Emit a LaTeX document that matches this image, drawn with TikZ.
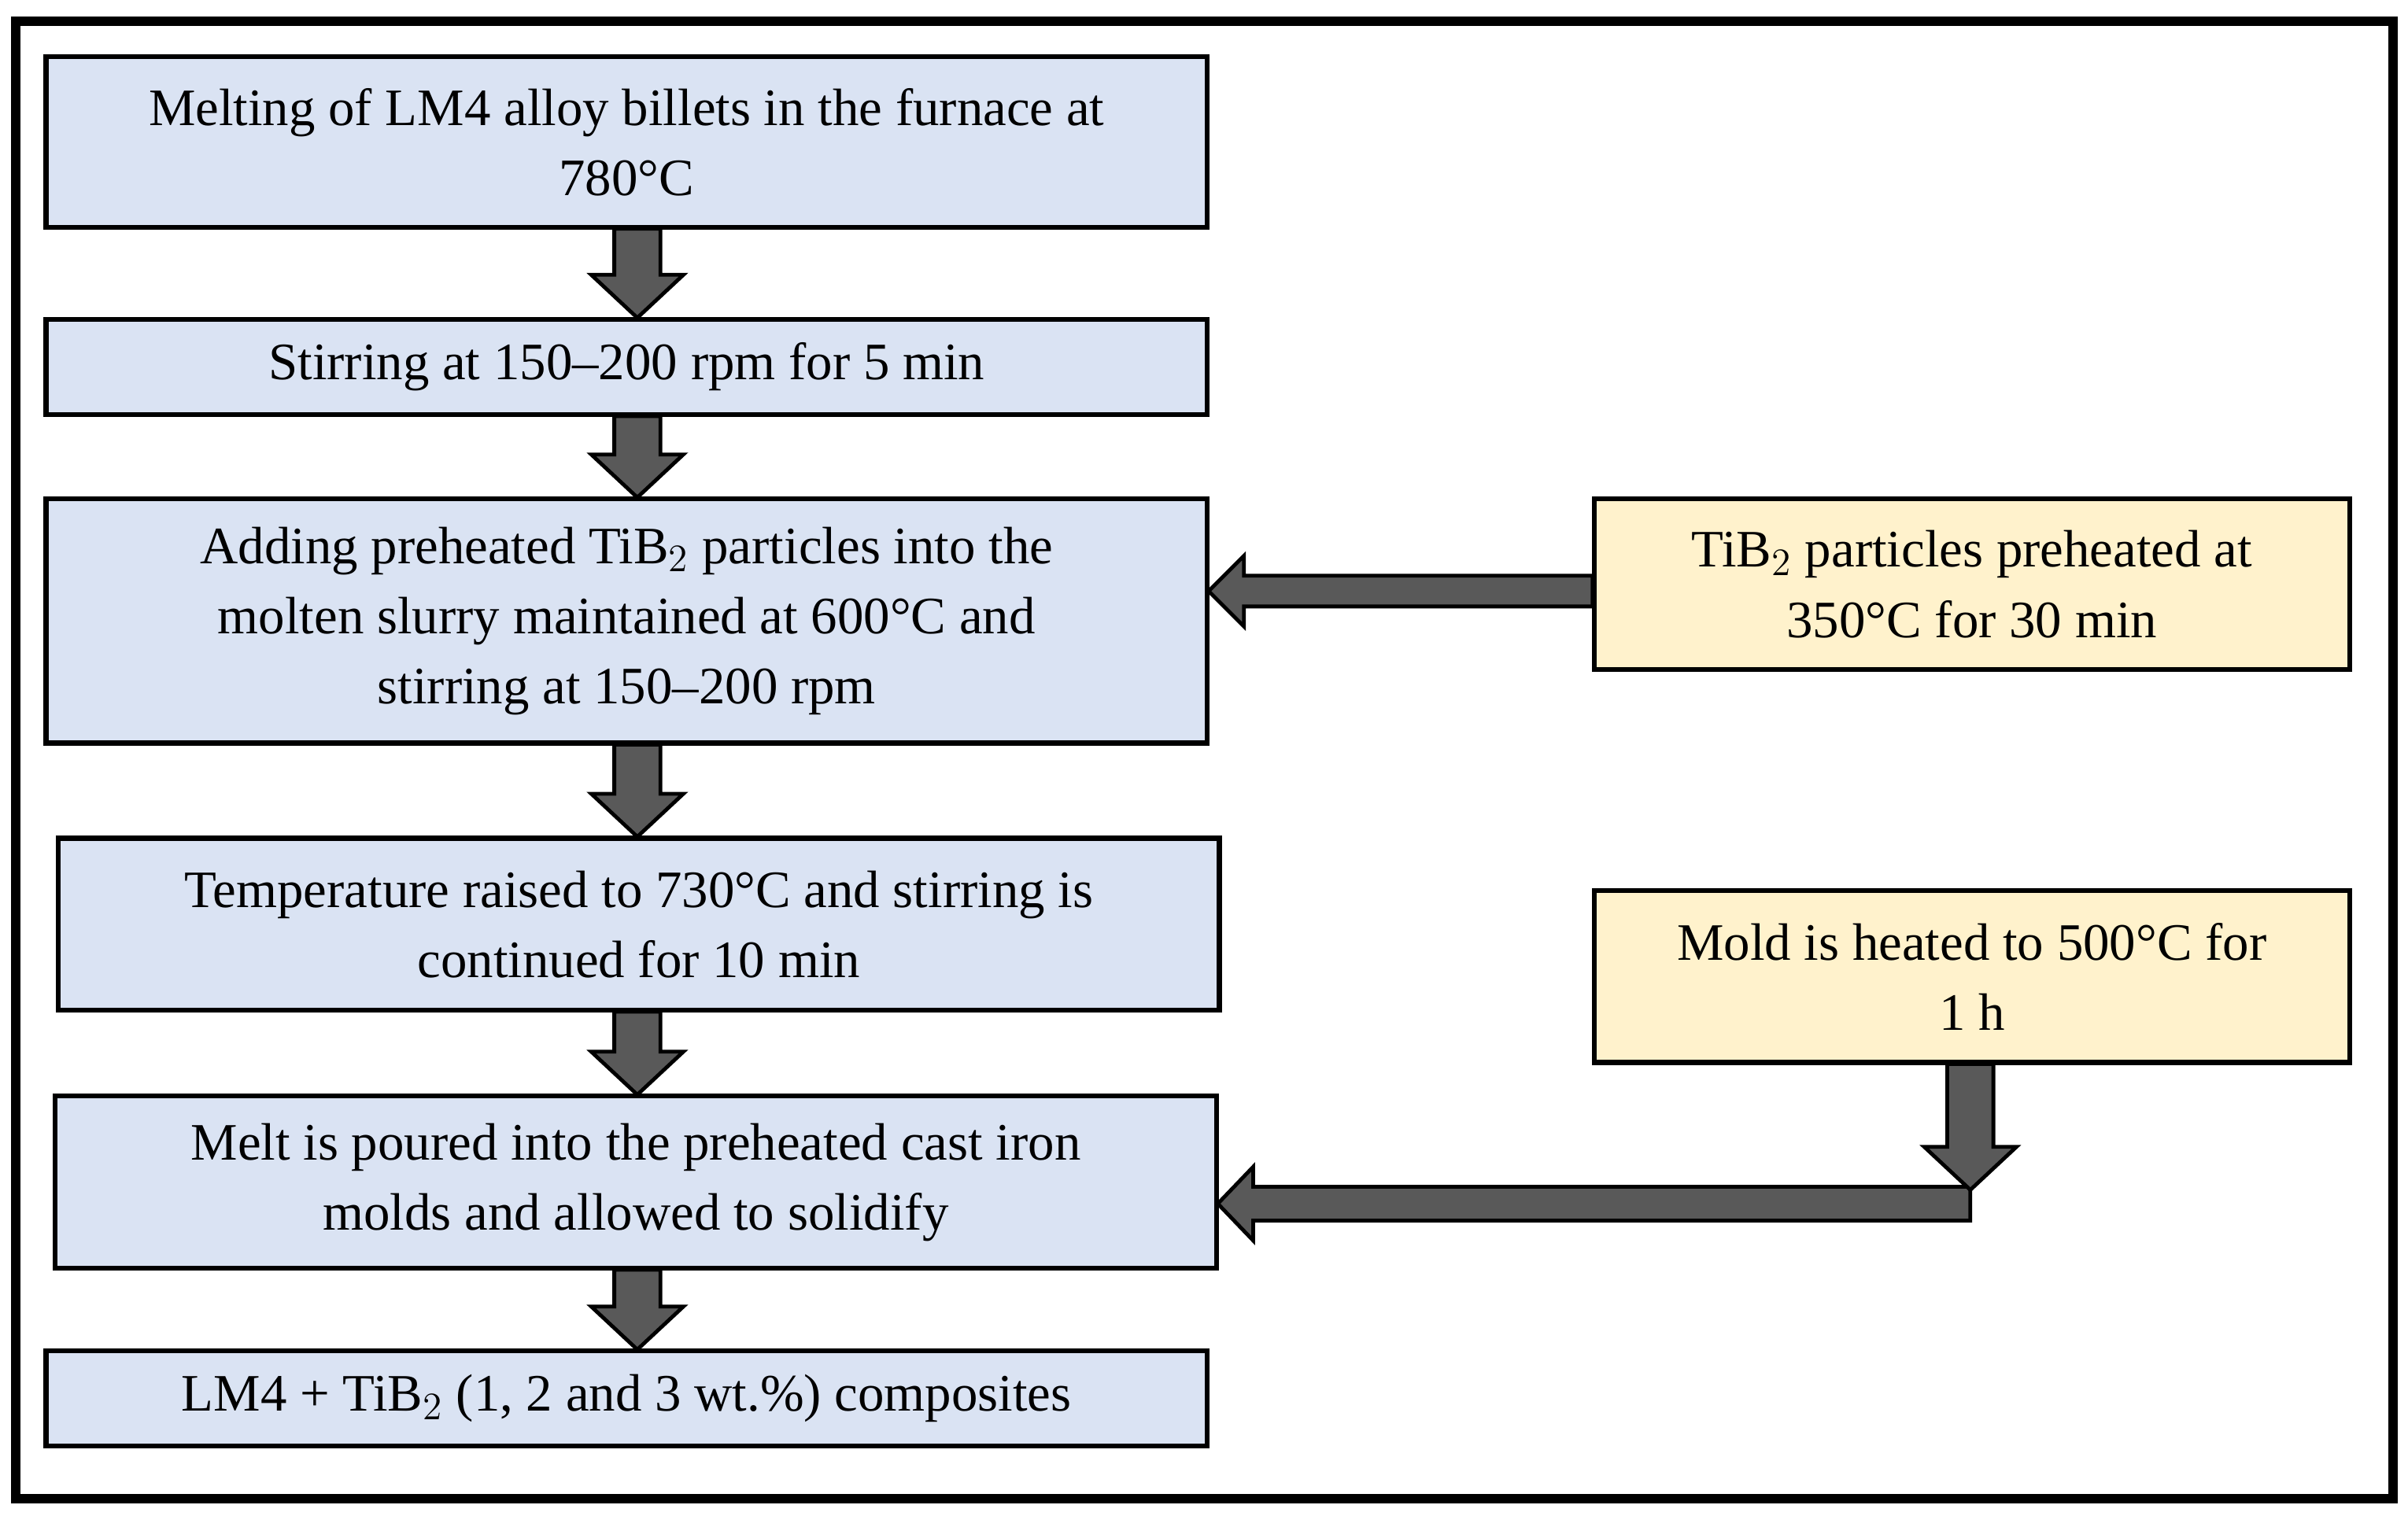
\documentclass[tikz,border=0pt]{standalone}
\usepackage{fontspec}
\setmainfont{Liberation Serif}
\begin{document}
\begin{tikzpicture}[x=0.02cm,y=-0.02cm,
 box/.style={draw=black,line width=1.8pt,fill=#1,align=center,inner sep=0pt,font=\fontsize{19.5}{26}\selectfont},
 arr/.style={fill=black!65,draw=black,line width=1.4pt,line join=miter}]
\useasboundingbox (0,0) rectangle (1568,987);
\draw[line width=3.5pt] (10,14) rectangle (1558,976);
\definecolor{bl}{HTML}{DAE3F3}\definecolor{yl}{HTML}{FFF2CC}
\newcommand\bx[6]{\node[box=#6,minimum width=(#3-#2)*0.02cm,minimum height=(#5-#4)*0.02cm] (#1) at ({(#2+#3)/2},{(#4+#5)/2})}
\bx{b1}{30}{786}{37}{148}{bl} {Melting of LM4 alloy billets in the furnace at\\780°C};
\bx{b2}{30}{786}{208}{270}{bl} {Stirring at 150–200 rpm for 5 min};
\bx{b3}{30}{786}{325}{484}{bl} {Adding preheated TiB$_2$ particles into the\\molten slurry maintained at 600°C and\\stirring at 150–200 rpm};
\bx{b4}{38}{794}{546}{658}{bl} {Temperature raised to 730°C and stirring is\\continued for 10 min};
\bx{b5}{36}{792}{714}{826}{bl} {Melt is poured into the preheated cast iron\\molds and allowed to solidify};
\bx{b6}{30}{786}{880}{942}{bl} {LM4 + TiB$_2$ (1, 2 and 3 wt.\%) composites};
\bx{y1}{1038}{1530}{325}{436}{yl} {TiB$_2$ particles preheated at\\350°C for 30 min};
\bx{y2}{1038}{1530}{580}{692}{yl} {Mold is heated to 500°C for\\1 h};
\newcommand\darr[3]{\draw[arr] (#1-15,#2) -- (#1-15,#3-28) -- (#1-30,#3-28) -- (#1,#3) -- (#1+30,#3-28) -- (#1+15,#3-28) -- (#1+15,#2) -- cycle;}
\darr{415}{149}{207}
\darr{415}{271}{324}
\darr{415}{485}{545}
\darr{415}{659}{713}
\darr{415}{827}{879}
\draw[arr] (1037,375) -- (810,375) -- (810,362) -- (787,385) -- (810,408) -- (810,395) -- (1037,395) -- cycle;
\draw[arr] (1283,773) -- (816,773) -- (816,760) -- (793,784) -- (816,808) -- (816,795) -- (1283,795) -- cycle;
\darr{1283}{693}{775}
\end{tikzpicture}
\end{document}
